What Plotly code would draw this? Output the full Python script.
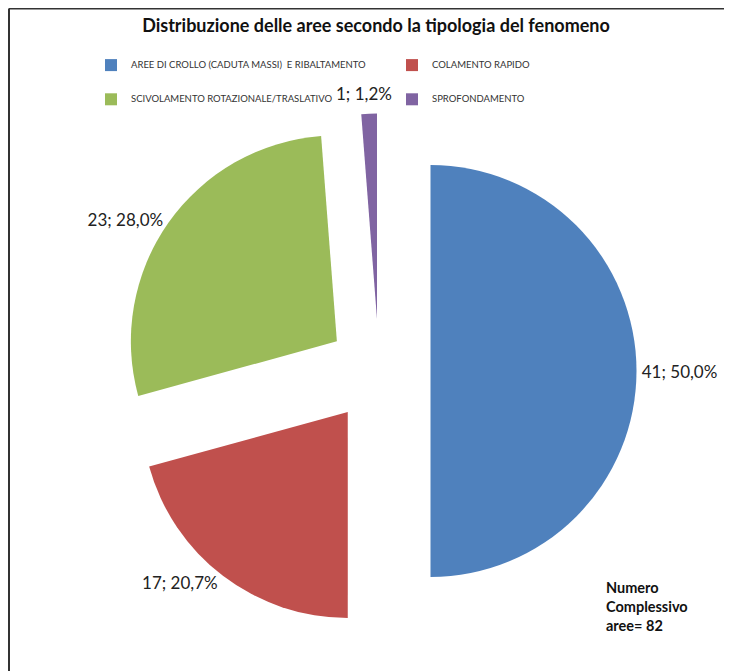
import plotly.graph_objects as go

categories = [
    "AREE DI CROLLO (CADUTA MASSI)  E RIBALTAMENTO",
    "COLAMENTO RAPIDO",
    "SCIVOLAMENTO ROTAZIONALE/TRASLATIVO",
    "SPROFONDAMENTO",
]
values = [41, 17, 23, 1]
colors = ["#4F81BD", "#C0504D", "#9BBB59", "#8064A2"]
title_text = "Distribuzione delle aree secondo la tipologia del fenomeno"

W, H = 732, 671
total = sum(values)
labels_txt = [f"{v}; {v / total * 100:.1f}%".replace(".", ",") for v in values]
# legend entries: padded with empty lines so rows are spaced as in the original
legend_labels = [f"<br><span style='font-size:9.5px'>{c}</span><br>" for c in categories]

# the thin last slice has its label set just above it, clear of the legend
text_pos = ["outside", "outside", "outside", "none"]

fig = go.Figure(
    go.Pie(
        labels=legend_labels,
        values=values,
        text=labels_txt,
        customdata=categories,
        textinfo="text",
        textposition=text_pos,
        textfont=dict(family="Lato", size=17, color="#222222"),
        marker=dict(colors=colors, line=dict(width=0)),
        pull=[0.25, 0.25, 0.25, 0.25],
        sort=False,
        direction="clockwise",
        rotation=0,
        hovertemplate="%{customdata}<br>%{value}<extra></extra>",
        domain=dict(x=[113.5 / W, 628.5 / W], y=[1 - 620.5 / H, 1 - 105.5 / H]),
    )
)

fig.update_layout(
    width=W,
    height=H,
    margin=dict(l=0, r=0, t=0, b=0, autoexpand=False),
    paper_bgcolor="white",
    plot_bgcolor="white",
    font=dict(family="Lato", color="#222222"),
    title=dict(
        text=f"<b>{title_text}</b>",
        x=368 / W,
        xanchor="center",
        y=1 - 18 / H,
        yanchor="middle",
        font=dict(family="Lato", size=18, color="#111111"),
    ),
    legend=dict(
        orientation="h",
        x=83 / W,
        xanchor="left",
        y=1 - 35 / H,
        yanchor="top",
        entrywidth=256,
        entrywidthmode="pixels",
        font=dict(family="Lato", size=8, color="#333333"),
        bgcolor="rgba(0,0,0,0)",
        traceorder="normal",
    ),
    shapes=[
        dict(type="line", xref="paper", yref="paper", x0=1 / W, x1=1.02, y0=1 - 0.5 / H, y1=1 - 0.5 / H,
             line=dict(color="#333333", width=2)),
        dict(type="line", xref="paper", yref="paper", x0=1 / W, x1=1 / W, y0=-0.02, y1=1 - 0.5 / H,
             line=dict(color="#333333", width=2)),
    ],
    annotations=[
        dict(
            text=f"<b>Numero<br>Complessivo<br>aree= {total}</b>",
            xref="paper", yref="paper",
            x=596 / W, y=1 - 569 / H,
            xanchor="left", yanchor="top",
            align="left",
            showarrow=False,
            font=dict(family="Lato", size=14.5, color="#111111"),
        ),
        dict(
            text=labels_txt[3],
            xref="paper", yref="paper",
            x=356 / W, y=1 - 85 / H,
            xanchor="center", yanchor="middle",
            showarrow=False,
            font=dict(family="Lato", size=17, color="#222222"),
        ),
    ],
)

fig.write_html("out.html")
